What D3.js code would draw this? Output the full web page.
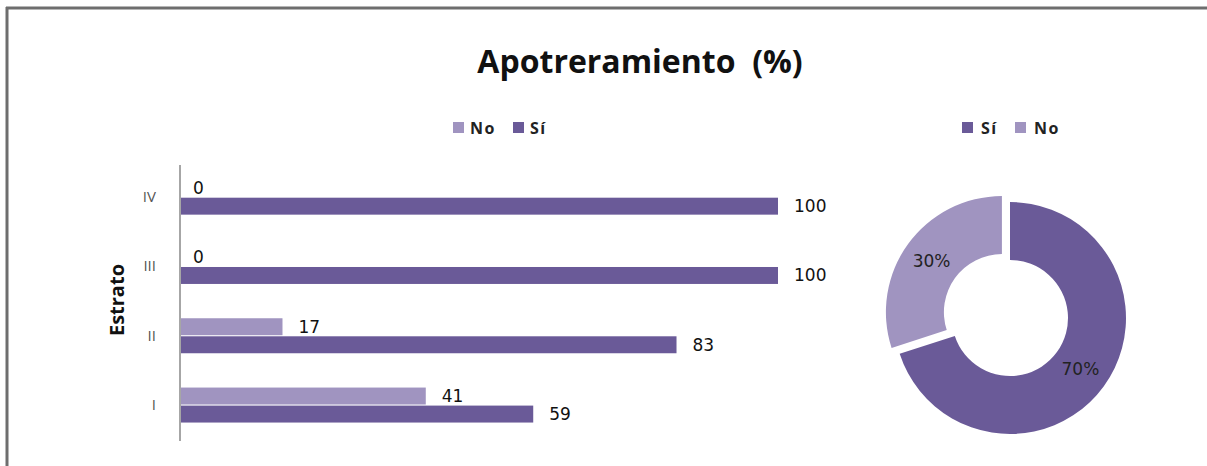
<!DOCTYPE html>
<html>
<head>
<meta charset="utf-8">
<script src="https://cdn.jsdelivr.net/npm/d3@7"></script>
<style>
  body { margin: 0; background: #fff; }
  svg { display: block; font-family: "Open Sans", Lato, sans-serif; }
</style>
</head>
<body>
<div id="chart"></div>
<script>
// data
var estratos = ["IV", "III", "II", "I"];
var seriesNames = ["No", "Sí"];
var noValues = [0, 0, 17, 41];
var siValues = [100, 100, 83, 59];
var pieNames = ["Sí", "No"];
var pieValues = [70, 30];

var colors = {"Sí": "#6a5a98", "No": "#a094c0"};
var numFont = "'DejaVu Sans', Verdana, sans-serif";

var W = 1207, H = 466;
var svg = d3.select("#chart").append("svg")
    .attr("width", W).attr("height", H);

svg.append("rect").attr("width", W).attr("height", H).attr("fill", "#fff");

// frame (top and left only)
svg.append("line").attr("x1", 6).attr("x2", W).attr("y1", 8).attr("y2", 8)
    .attr("stroke", "#6e6e6e").attr("stroke-width", 3);
svg.append("line").attr("x1", 7).attr("x2", 7).attr("y1", 7).attr("y2", H)
    .attr("stroke", "#6e6e6e").attr("stroke-width", 3);

// title
svg.append("text")
    .attr("x", 640).attr("y", 73)
    .attr("text-anchor", "middle")
    .attr("font-size", 32).attr("font-weight", "bold")
    .attr("fill", "#111")
    .style("white-space", "pre")
    .text("Apotreramiento  (%)");

// ---------- bar chart ----------
var rows = estratos.map(function(e, i) {
  return {estrato: e, values: [{key: "No", value: noValues[i]}, {key: "Sí", value: siValues[i]}]};
});

var x = d3.scaleLinear().domain([0, 100]).range([181, 778]);
var y0 = d3.scaleBand().domain(estratos).range([162.5, 439.7])
    .paddingInner(0.495).paddingOuter(0.2475);
var y1 = d3.scaleBand().domain(seriesNames).range([0, y0.bandwidth()]).paddingInner(0.06);

var groups = svg.selectAll("g.row").data(rows).enter().append("g")
    .attr("class", "row")
    .attr("transform", function(d) { return "translate(0," + y0(d.estrato) + ")"; });

groups.selectAll("rect").data(function(d) { return d.values; }).enter().append("rect")
    .attr("x", x(0))
    .attr("y", function(d) { return y1(d.key); })
    .attr("width", function(d) { return x(d.value) - x(0); })
    .attr("height", y1.bandwidth())
    .attr("fill", function(d) { return colors[d.key]; });

groups.selectAll("text").data(function(d) { return d.values; }).enter().append("text")
    .attr("x", function(d) { return x(d.value) + (d.value === 0 ? 12 : 16); })
    .attr("y", function(d) { return y1(d.key) + y1.bandwidth() / 2; })
    .attr("dy", "0.35em")
    .attr("font-size", 17).attr("font-family", numFont)
    .attr("fill", "#111")
    .text(function(d) { return d.value; });

// category axis
var yAxis = svg.append("g")
    .attr("transform", "translate(" + 180 + ",0)")
    .call(d3.axisLeft(y0).tickSize(0).tickPadding(24));
yAxis.select(".domain").attr("stroke", "#888").attr("stroke-width", 1.5)
    .attr("d", "M0,165V441");
yAxis.selectAll("text").attr("font-size", 15).attr("fill", "#555")
    .attr("font-family", "'Open Sans', sans-serif");

svg.append("text")
    .attr("transform", "translate(124,300) rotate(-90)")
    .attr("text-anchor", "middle")
    .attr("font-size", 20).attr("font-weight", "bold")
    .attr("fill", "#111")
    .text("Estrato");

// bar legend
var barLegend = svg.append("g").attr("transform", "translate(453,128)");
var blItems = barLegend.selectAll("g").data(seriesNames).enter().append("g")
    .attr("transform", function(d, i) { return "translate(" + (i * 60) + ",0)"; });
blItems.append("rect").attr("x", 0).attr("y", -6).attr("width", 11).attr("height", 11)
    .attr("fill", function(d) { return colors[d]; });
blItems.append("text").attr("x", 17).attr("y", 0).attr("dy", "0.35em")
    .attr("font-size", 16).attr("font-weight", "bold").attr("fill", "#222")
    .attr("letter-spacing", 1.5)
    .text(function(d) { return d; });

// ---------- donut ----------
var cx = 1010, cy = 318, rOuter = 116, rInner = 58;
var pie = d3.pie().sort(null).value(function(d) { return d.value; });
var pieData = pie(pieNames.map(function(n, i) { return {key: n, value: pieValues[i]}; }));
var arc = d3.arc().innerRadius(rInner).outerRadius(rOuter);
var labelArc = d3.arc().innerRadius((rInner + rOuter) / 2).outerRadius((rInner + rOuter) / 2);

var donut = svg.append("g").attr("transform", "translate(" + cx + "," + cy + ")");
var slices = donut.selectAll("g").data(pieData).enter().append("g")
    .attr("transform", function(d) {
      if (d.data.key !== "No") return null;
      var a = (d.startAngle + d.endAngle) / 2;
      return "translate(" + (Math.sin(a) * 10) + "," + (-Math.cos(a) * 10) + ")";
    });
slices.append("path").attr("d", arc)
    .attr("fill", function(d) { return colors[d.data.key]; });
slices.append("text")
    .attr("transform", function(d) { return "translate(" + labelArc.centroid(d) + ")"; })
    .attr("text-anchor", "middle").attr("dy", "0.35em")
    .attr("font-size", 17).attr("font-family", numFont).attr("fill", "#222")
    .text(function(d) { return d.data.value + "%"; });

// donut legend
var pieLegend = svg.append("g").attr("transform", "translate(962,128)");
var plItems = pieLegend.selectAll("g").data(pieNames).enter().append("g")
    .attr("transform", function(d, i) { return "translate(" + (i * 53) + ",0)"; });
plItems.append("rect").attr("x", 0).attr("y", -6).attr("width", 11).attr("height", 11)
    .attr("fill", function(d) { return colors[d]; });
plItems.append("text").attr("x", 19).attr("y", 0).attr("dy", "0.35em")
    .attr("font-size", 16).attr("font-weight", "bold").attr("fill", "#222")
    .attr("letter-spacing", 1.5)
    .text(function(d) { return d; });
</script>
</body>
</html>
